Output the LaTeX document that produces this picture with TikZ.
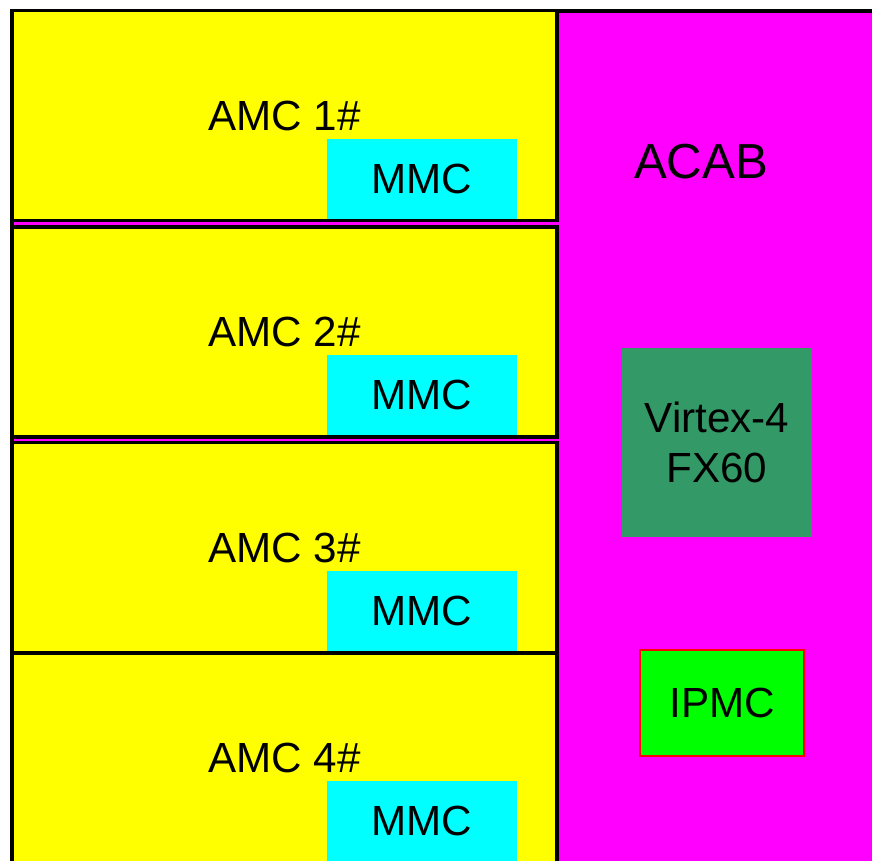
\documentclass[tikz,border=0pt]{standalone}
\usepackage{fontspec}
\setmainfont{Liberation Sans}
\usetikzlibrary{positioning}
\definecolor{amcyellow}{HTML}{FFFF00}
\definecolor{mmccyan}{HTML}{00FFFF}
\definecolor{acabmagenta}{HTML}{FF00FF}
\definecolor{fpgagreen}{HTML}{339966}
\definecolor{ipmcgreen}{HTML}{00FF00}
\definecolor{ipmcred}{HTML}{FF0000}
\tikzset{
  labelfont/.style={font=\fontsize{24}{28.5}\selectfont},
  amcbox/.style={draw=black, line width=2pt, fill=amcyellow, minimum width=10.9cm, minimum height=4.2cm, inner sep=0pt, labelfont},
  mmcbox/.style={fill=mmccyan, minimum width=3.8cm, minimum height=1.6cm, inner sep=0pt, labelfont},
}
\begin{document}
\begin{tikzpicture}[x=0.02cm,y=-0.02cm]
\useasboundingbox (0,0) rectangle (872,861);
\clip (0,0) rectangle (872,861);
% carrier board behind the AMC slots
\fill[acabmagenta] (12,11) rectangle (872,861);
\draw[black, line width=2pt] (872,11) -- (12,11) -- (12,861);
\node[font=\fontsize{28}{32}\selectfont] (acab) at (701,162) {ACAB};
% AMC slots
\node[amcbox] (amc1) at (284.5,115.5) {AMC 1\#};
\node[mmcbox] (mmc1) at (422,179) {MMC};
\node[amcbox] (amc2) at (284.5,332) {AMC 2\#};
\node[mmcbox] (mmc2) at (422,395) {MMC};
\node[amcbox] (amc3) at (284.5,547.5) {AMC 3\#};
\node[mmcbox] (mmc3) at (422,611) {MMC};
\node[amcbox] (amc4) at (284.5,758) {AMC 4\#};
\node[mmcbox] (mmc4) at (422,821) {MMC};
% chips on the ACAB
\node[fill=fpgagreen, minimum width=3.8cm, minimum height=3.78cm, align=center, labelfont] (fpga) at (717,442.5) {Virtex-4\\FX60};
\node[fill=ipmcgreen, draw=ipmcred, line width=0.6pt, minimum width=3.28cm, minimum height=2.12cm, labelfont] (ipmc) at (722,703) {IPMC};
\end{tikzpicture}
\end{document}
